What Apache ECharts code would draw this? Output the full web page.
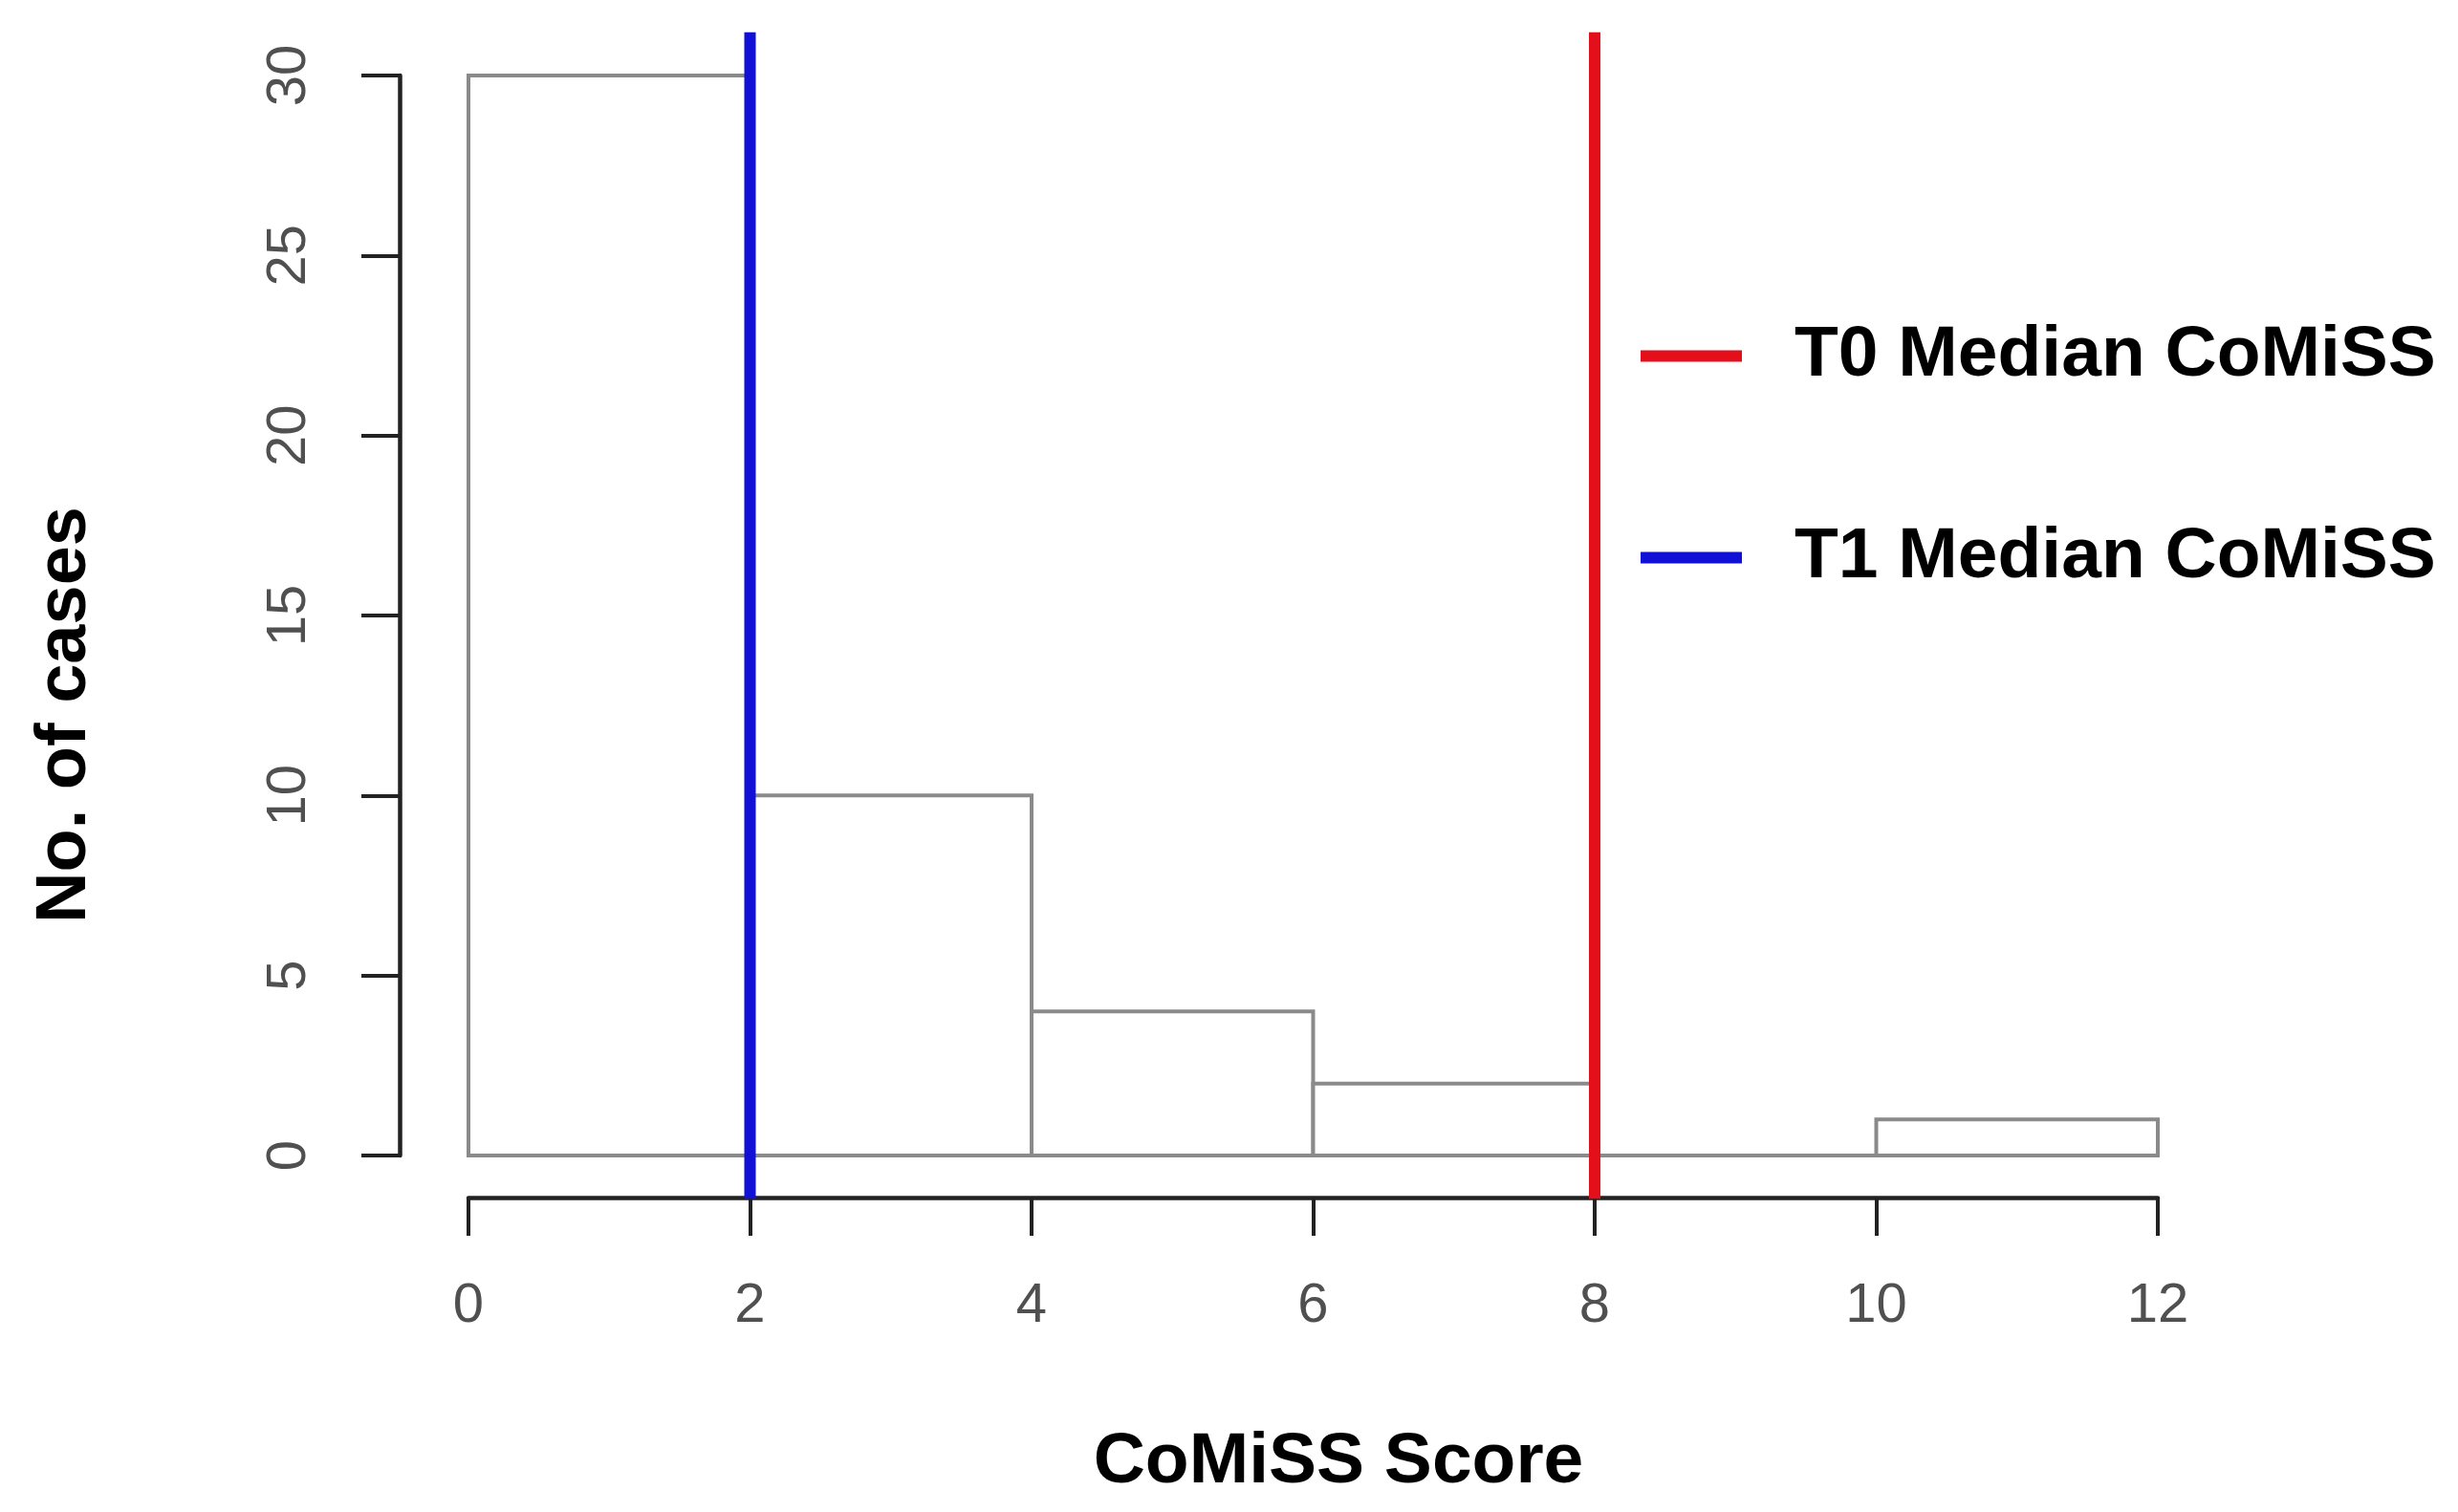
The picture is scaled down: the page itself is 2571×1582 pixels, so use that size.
<!DOCTYPE html>
<html>
<head>
<meta charset="utf-8">
<script src="https://cdn.jsdelivr.net/npm/echarts@6/dist/echarts.min.js"></script>
<style>
html,body{margin:0;padding:0;background:#fff;}
#chart{width:2571px;height:1582px;}
</style>
</head>
<body>
<div id="chart"></div>
<script>
// ---- data ----
const binEdges = [0, 2, 4, 6, 8, 10, 12];
const counts = [30, 10, 4, 2, 0, 1];
const medianNames = ['T0 Median CoMiSS', 'T1 Median CoMiSS'];
const medianValues = [8, 2];
const medianColors = ['#e3101c', '#1010d6'];
const xTitle = 'CoMiSS Score';
const yTitle = 'No. of cases';
const xMin = 0, xMax = 12, xStep = 2;
const yMin = 0, yMax = 30, yStep = 5;

// ---- build ----
const FONT = 'Liberation Sans, Arial, sans-serif';
const yPad = 0.04 * (yMax - yMin);
const histData = counts.map((c, i) => [binEdges[i], binEdges[i + 1], c]);

const chart = echarts.init(document.getElementById('chart'), null, {renderer: 'canvas'});

const medianSeries = medianNames.map((name, i) => ({
  name: name,
  type: 'custom',
  clip: false,
  z: 5,
  itemStyle: {color: medianColors[i]},
  data: [[medianValues[i]]],
  renderItem: function (params, api) {
    const x = api.value(0);
    const p1 = api.coord([x, yMax + yPad]);
    const p2 = api.coord([x, yMin - yPad]);
    return {
      type: 'line',
      shape: {x1: p1[0], y1: p1[1], x2: p2[0], y2: p2[1]},
      style: {stroke: medianColors[i], lineWidth: 12}
    };
  }
}));

const option = {
  backgroundColor: '#ffffff',
  animation: false,
  grid: {left: 490, right: 314, top: 79, bottom: 373, containLabel: false},
  xAxis: {
    type: 'value', min: xMin, max: xMax, interval: xStep,
    offset: 44,
    splitLine: {show: false},
    axisLine: {show: true, onZero: false, lineStyle: {color: '#222', width: 4.5}},
    axisTick: {show: true, length: 40, lineStyle: {color: '#222', width: 4}},
    axisLabel: {
      margin: 114, fontSize: 58, color: '#505050', fontFamily: FONT,
      verticalAlign: 'middle'
    }
  },
  yAxis: {
    type: 'value', min: yMin, max: yMax, interval: yStep,
    offset: 72,
    splitLine: {show: false},
    axisLine: {show: true, onZero: false, lineStyle: {color: '#222', width: 4.5}},
    axisTick: {show: true, length: 40, lineStyle: {color: '#222', width: 4}},
    axisLabel: {
      margin: 115, fontSize: 58, color: '#505050', fontFamily: FONT,
      rotate: 90, align: 'center', verticalAlign: 'middle'
    }
  },
  legend: {
    orient: 'vertical',
    left: 1711, top: 330,
    itemWidth: 106, itemHeight: 12, itemGap: 136,
    icon: 'rect',
    data: medianNames,
    textStyle: {fontSize: 75, fontWeight: 'bold', color: '#000', fontFamily: FONT, padding: [0, 0, 8, 50]}
  },
  graphic: [
    {type: 'text', x: 1400, y: 1530,
     style: {text: xTitle, font: 'bold 75px ' + FONT, fill: '#000', textAlign: 'center', textVerticalAlign: 'middle'}},
    {type: 'text', x: 69, y: 748, rotation: Math.PI / 2,
     style: {text: yTitle, font: 'bold 74px ' + FONT, fill: '#000', textAlign: 'center', textVerticalAlign: 'middle'}}
  ],
  series: [
    {
      name: 'hist',
      type: 'custom',
      clip: false,
      z: 2,
      data: histData,
      renderItem: function (params, api) {
        const p0 = api.coord([api.value(0), api.value(2)]);
        const p1 = api.coord([api.value(1), 0]);
        return {
          type: 'rect',
          shape: {x: p0[0], y: p0[1], width: p1[0] - p0[0], height: p1[1] - p0[1]},
          style: {fill: '#ffffff', stroke: '#8a8a8a', lineWidth: 4}
        };
      }
    }
  ].concat(medianSeries)
};
chart.setOption(option);
</script>
</body>
</html>
